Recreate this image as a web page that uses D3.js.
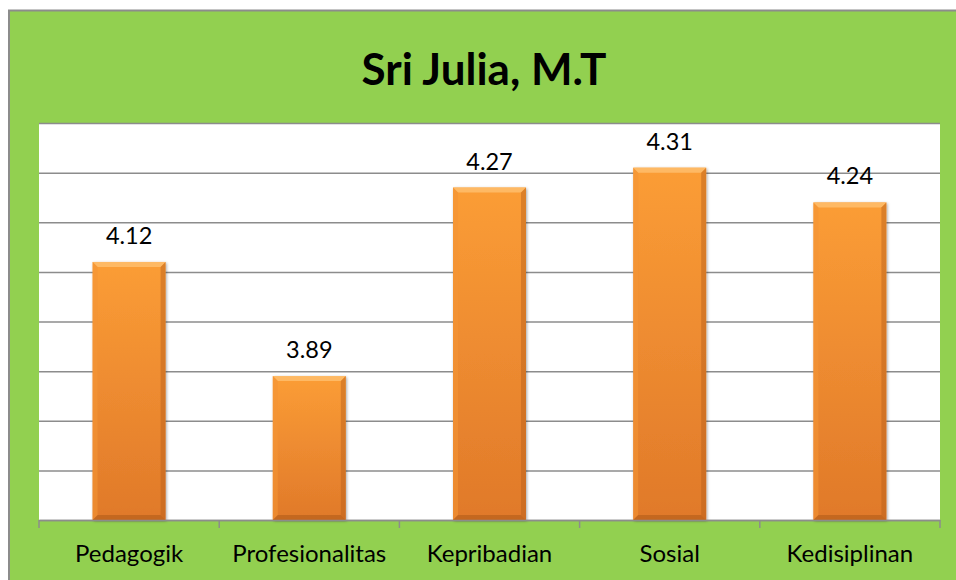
<!DOCTYPE html>
<html>
<head>
<meta charset="utf-8">
<script src="https://cdn.jsdelivr.net/npm/d3@7"></script>
<style>
  html, body { margin: 0; padding: 0; background: #fff; }
  svg { display: block; }
</style>
</head>
<body>
<div id="chart"></div>
<script>
var categories = ['Pedagogik', 'Profesionalitas', 'Kepribadian', 'Sosial', 'Kedisiplinan'];
var values = [4.12, 3.89, 4.27, 4.31, 4.24];
var yTicks = [3.6, 3.7, 3.8, 3.9, 4.0, 4.1, 4.2, 4.3, 4.4];
var title = 'Sri Julia, M.T';

var width = 956;
var height = 580;
var plot = { left: 39, right: 940, top: 123, bottom: 520 };

var svg = d3.select('#chart').append('svg')
    .attr('width', width)
    .attr('height', height);

var defs = svg.append('defs');

var grad = defs.append('linearGradient')
    .attr('id', 'barFill')
    .attr('x1', 0).attr('y1', 0).attr('x2', 0).attr('y2', 1);
grad.append('stop').attr('offset', '0%').attr('stop-color', '#fb9d36');
grad.append('stop').attr('offset', '100%').attr('stop-color', '#e0792a');

var shadow = defs.append('filter')
    .attr('id', 'barShadow')
    .attr('x', '-20%').attr('y', '-10%').attr('width', '140%').attr('height', '120%');
shadow.append('feDropShadow')
    .attr('dx', 1).attr('dy', 1).attr('stdDeviation', 1.5)
    .attr('flood-color', '#000').attr('flood-opacity', 0.35);

// green chart background
svg.append('rect')
    .attr('x', 9).attr('y', 10.5)
    .attr('width', width + 10).attr('height', height + 10)
    .attr('fill', '#92d050')
    .attr('stroke', '#8c8c8c')
    .attr('stroke-width', 2);

svg.append('rect')
    .attr('x', plot.left).attr('y', plot.top)
    .attr('width', plot.right - plot.left)
    .attr('height', plot.bottom - plot.top)
    .attr('fill', '#fff');

var x = d3.scaleBand()
    .domain(categories)
    .range([plot.left, plot.right])
    .paddingInner(0.595)
    .paddingOuter(0.2975);

var y = d3.scaleLinear()
    .domain([3.6, 4.4])
    .range([plot.bottom, plot.top]);

// gridlines
svg.append('g')
    .attr('class', 'grid')
    .attr('transform', 'translate(' + plot.left + ',0)')
    .call(d3.axisLeft(y).tickValues(yTicks).tickSize(-(plot.right - plot.left)).tickFormat(''))
    .call(function(g) { g.select('.domain').remove(); })
    .selectAll('line')
    .attr('stroke', '#8c8c8c')
    .attr('stroke-width', 1.5);

// bars
var data = categories.map(function(c, i) { return { cat: c, val: values[i] }; });
var bev = 5;

var bars = svg.selectAll('.bar')
    .data(data)
  .enter().append('g')
    .attr('class', 'bar');

bars.append('rect')
    .attr('x', function(d) { return x(d.cat); })
    .attr('y', function(d) { return y(d.val); })
    .attr('width', x.bandwidth())
    .attr('height', function(d) { return y(3.6) - y(d.val); })
    .attr('fill', 'url(#barFill)')
    .attr('filter', 'url(#barShadow)');

function bevel(d, side) {
    var x0 = x(d.cat), x1 = x0 + x.bandwidth();
    var y0 = y(d.val), y1 = y(3.6);
    if (side === 'top') return [[x0, y0], [x1, y0], [x1 - bev, y0 + bev], [x0 + bev, y0 + bev]];
    if (side === 'left') return [[x0, y0], [x0 + bev, y0 + bev], [x0 + bev, y1 - bev], [x0, y1]];
    if (side === 'right') return [[x1, y0], [x1, y1], [x1 - bev, y1 - bev], [x1 - bev, y0 + bev]];
    return [[x0, y1], [x0 + bev, y1 - bev], [x1 - bev, y1 - bev], [x1, y1]];
}
var bevelStyle = { top: ['#ffc070', 0.8], left: ['#f39436', 0.6], right: ['#b65d18', 0.45], bottom: ['#a85514', 0.5] };
['top', 'left', 'right', 'bottom'].forEach(function(side) {
    bars.append('polygon')
        .attr('points', function(d) { return bevel(d, side).join(' '); })
        .attr('fill', bevelStyle[side][0])
        .attr('fill-opacity', bevelStyle[side][1]);
});

// x axis
var xAxis = svg.append('g')
    .attr('transform', 'translate(0,' + plot.bottom + ')')
    .call(d3.axisBottom(x).tickSize(0).tickFormat(''));
xAxis.select('.domain').attr('stroke', '#8c8c8c').attr('stroke-width', 1.5);

var bounds = categories.map(function(c) { return x(c) - x.step() * x.paddingOuter(); });
bounds.push(plot.right);
svg.selectAll('.xtick')
    .data(bounds)
  .enter().append('line')
    .attr('class', 'xtick')
    .attr('x1', function(d) { return d; })
    .attr('x2', function(d) { return d; })
    .attr('y1', plot.bottom)
    .attr('y2', plot.bottom + 8)
    .attr('stroke', '#8c8c8c')
    .attr('stroke-width', 1.5);

svg.selectAll('.xlabel')
    .data(categories)
  .enter().append('text')
    .attr('class', 'xlabel')
    .attr('x', function(d) { return x(d) + x.bandwidth() / 2; })
    .attr('y', 562)
    .attr('text-anchor', 'middle')
    .attr('font-family', 'Lato, "Open Sans", sans-serif')
    .attr('font-size', 24)
    .attr('fill', '#000')
    .text(function(d) { return d; });

// value labels
svg.selectAll('.vlabel')
    .data(data)
  .enter().append('text')
    .attr('class', 'vlabel')
    .attr('x', function(d) { return x(d.cat) + x.bandwidth() / 2; })
    .attr('y', function(d) { return y(d.val) - 18; })
    .attr('text-anchor', 'middle')
    .attr('font-family', 'Lato, "Open Sans", sans-serif')
    .attr('font-size', 23.5)
    .attr('fill', '#000')
    .text(function(d) { return d.val.toFixed(2); });

svg.append('text')
    .attr('x', 484)
    .attr('y', 85)
    .attr('text-anchor', 'middle')
    .attr('font-family', 'Lato, "Open Sans", sans-serif')
    .attr('font-weight', 'bold')
    .attr('font-size', 44)
    .attr('fill', '#000')
    .text(title);
</script>
</body>
</html>
